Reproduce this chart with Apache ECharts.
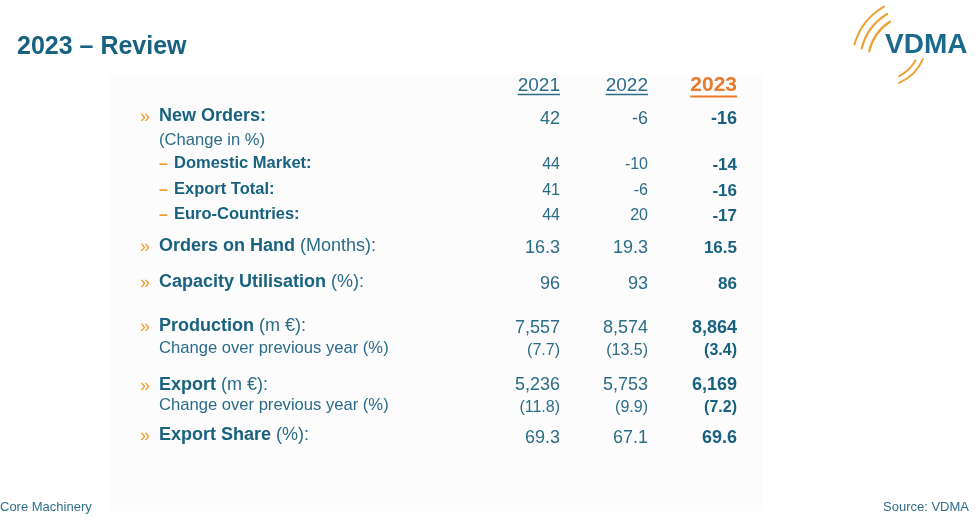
<!DOCTYPE html>
<html><head><meta charset="utf-8">
<script src="https://cdn.jsdelivr.net/npm/echarts@6/dist/echarts.min.js"></script>
<style>html,body{margin:0;padding:0;background:#fff}#c{width:980px;height:521px}</style>
</head><body><div id="c"></div>
<script>
// ---------- data ----------
const years = ['2021', '2022', '2023'];
const rowBold = ['New Orders:', '', 'Domestic Market:', 'Export Total:', 'Euro-Countries:',
  'Orders on Hand', 'Capacity Utilisation', 'Production', '', 'Export', '', 'Export Share'];
const rowNote = ['', '(Change in %)', '', '', '', ' (Months):', ' (%):', ' (m €):',
  'Change over previous year (%)', ' (m €):', 'Change over previous year (%)', ' (%):'];
const v2021 = [42, null, 44, 41, 44, 16.3, 96, 7557, 7.7, 5236, 11.8, 69.3];
const v2022 = [-6, null, -10, -6, 20, 19.3, 93, 8574, 13.5, 5753, 9.9, 67.1];
const v2023 = [-16, null, -14, -16, -17, 16.5, 86, 8864, 3.4, 6169, 7.2, 69.6];
const rowFormat = ['int', '', 'int', 'int', 'int', 'd1', 'int', 'thou', 'paren', 'thou', 'paren', 'd1'];
const titleText = '2023 – Review';
const footLeft = 'Core Machinery';
const footRight = 'Source: VDMA';

// ---------- layout (axis units) ----------
const rowKind = ['main', 'note', 'sub', 'sub', 'sub', 'main', 'main', 'main', 'note', 'main', 'note', 'main'];
const rowY = [116.5, 140, 163, 189, 214, 246.5, 282.5, 326.5, 348, 385, 405.5, 435.5];
const valY = [119, 0, 165, 191, 216, 248, 284, 328, 350.5, 385.5, 407.5, 438];
const labelX = 159;
const colX = [560, 648, 737];
const headerY = 85.5;

// ---------- styles ----------
const FONT = '"Liberation Sans", Arial, Helvetica, sans-serif';
const BLUE = '#18627f';
const BLUE2 = '#2b6c88';
const ORANGE = '#ee9d30';
const ORANGE2 = '#e97b2c';

function fmt(v, f) {
  if (v == null) return '';
  if (f === 'thou') return v.toLocaleString('en-US');
  if (f === 'paren') return '(' + v.toFixed(1) + ')';
  if (f === 'd1') return v.toFixed(1);
  return String(v);
}
const mctx = document.createElement('canvas').getContext('2d');
function textW(t, font) { mctx.font = font; return mctx.measureText(t).width; }

const chart = echarts.init(document.getElementById('c'));

function labelRender(params, api) {
  const i = api.value(2);
  const p = api.coord([api.value(0), api.value(1)]);
  const kind = rowKind[i];
  const kids = [];
  if (kind === 'main') {
    kids.push({ type: 'text', x: p[0] - 19, y: p[1] + 1, style: {
      text: '»', fill: ORANGE, fontSize: 18, fontFamily: FONT, align: 'left', verticalAlign: 'middle' } });
    kids.push({ type: 'text', x: p[0], y: p[1], style: {
      text: '{b|' + rowBold[i] + '}' + rowNote[i],
      rich: { b: { fontWeight: 'bold', fontSize: 18, fontFamily: FONT, fill: BLUE } },
      fill: BLUE2, fontSize: 18, fontFamily: FONT, align: 'left', verticalAlign: 'middle' } });
  } else if (kind === 'sub') {
    kids.push({ type: 'text', x: p[0], y: p[1] + 2, style: {
      text: '–', fill: ORANGE, fontSize: 16, fontWeight: 'bold', fontFamily: FONT, align: 'left', verticalAlign: 'middle' } });
    kids.push({ type: 'text', x: p[0] + 15, y: p[1], style: {
      text: rowBold[i], fill: BLUE, fontSize: 16.5, fontWeight: 'bold', fontFamily: FONT, align: 'left', verticalAlign: 'middle' } });
  } else {
    kids.push({ type: 'text', x: p[0], y: p[1], style: {
      text: rowNote[i], fill: BLUE2, fontSize: 16.6, fontFamily: FONT, align: 'left', verticalAlign: 'middle' } });
  }
  return { type: 'group', children: kids };
}

function valueRender(col) {
  return function (params, api) {
    const i = api.value(2);
    const p = api.coord([api.value(0), api.value(1)]);
    const kind = rowKind[i];
    let size = kind === 'main' ? 18 : 16;
    const bold = col === 2;
    if (bold && (kind === 'sub' || i === 5 || i === 6)) size = 17;
    return { type: 'text', x: p[0], y: p[1], style: {
      text: fmt(api.value(3), rowFormat[i]), fill: bold ? BLUE : BLUE2,
      fontSize: size, fontWeight: bold ? 'bold' : 'normal', fontFamily: FONT,
      align: 'right', verticalAlign: 'middle' } };
  };
}

function headerRender(params, api) {
  const j = api.value(2);
  const p = api.coord([api.value(0), api.value(1)]);
  const last = j === years.length - 1;
  const size = last ? 21 : 19;
  const weight = last ? 'bold' : 'normal';
  const color = last ? ORANGE2 : BLUE2;
  const w = textW(years[j], weight + ' ' + size + 'px ' + FONT);
  const uy = p[1] + (last ? 11 : 9);
  return { type: 'group', children: [
    { type: 'text', x: p[0], y: p[1], style: { text: years[j], fill: color, fontSize: size,
      fontWeight: weight, fontFamily: FONT, align: 'right', verticalAlign: 'middle' } },
    { type: 'line', shape: { x1: p[0] - w, y1: uy, x2: p[0], y2: uy },
      style: { stroke: color, lineWidth: last ? 1.8 : 1.4 } }
  ] };
}

const vals = [v2021, v2022, v2023];
const series = [
  { type: 'custom', renderItem: labelRender, silent: true,
    data: rowKind.map((k, i) => [labelX, rowY[i], i]) },
  { type: 'custom', renderItem: headerRender, silent: true,
    data: years.map((y, j) => [colX[j], headerY, j]) }
];
vals.forEach((arr, col) => {
  series.push({ type: 'custom', renderItem: valueRender(col), silent: true,
    data: arr.map((v, i) => [colX[col], valY[i], i, v]).filter(d => d[3] != null) });
});

const deg = Math.PI / 180;
function arc(cx, cy, r, a0, a1, lw) {
  return { type: 'arc', silent: true,
    shape: { cx, cy, r, startAngle: a0 * deg, endAngle: a1 * deg, clockwise: true },
    style: { stroke: '#eba236', lineWidth: lw, fill: null, lineCap: 'round' } };
}

chart.setOption({
  animation: false,
  backgroundColor: '#ffffff',
  title: { text: titleText, left: 12, top: 30, padding: 5,
    textStyle: { color: BLUE, fontSize: 25, fontWeight: 'bold', fontFamily: FONT } },
  grid: { left: 0, right: 0, top: 0, bottom: 0 },
  xAxis: { type: 'value', min: 0, max: 980, show: false },
  yAxis: { type: 'value', min: 0, max: 521, inverse: true, show: false },
  graphic: [
    { type: 'rect', z: -10, silent: true, shape: { x: 110, y: 75, width: 653, height: 436 },
      style: { fill: '#fcfcfc' } },
    { type: 'text', left: 0, top: 501, silent: true,
      style: { text: footLeft, fill: '#2f6f8b', fontSize: 13, fontFamily: FONT } },
    { type: 'text', right: 11, top: 501, silent: true,
      style: { text: footRight, fill: '#2f6f8b', fontSize: 13, fontFamily: FONT } },
    { type: 'text', left: 885, top: 31, silent: true,
      style: { text: 'VDMA', fill: '#1d6a8d', fontSize: 28, fontWeight: 'bold', fontFamily: FONT } },
    arc(916, 62, 64, 196, 240, 2.0),
    arc(916, 62, 56, 194, 239, 2.2),
    arc(916, 62, 48, 193, 237, 2.2),
    arc(880, 40, 47, 24, 66, 2.0),
    arc(880, 40, 41, 30, 62, 2.0)
  ],
  series
});
</script></body></html>
